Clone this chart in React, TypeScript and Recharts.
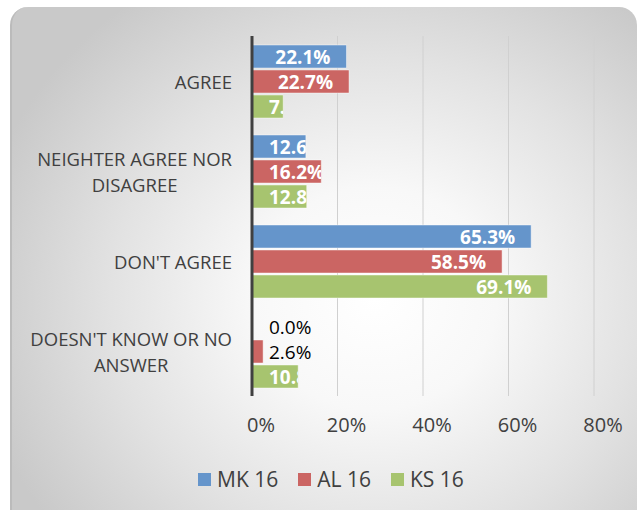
import React from "react";
import { BarChart, Bar, XAxis, YAxis, CartesianGrid, Legend, LabelList } from "recharts";

const categories = [
  "AGREE",
  "NEIGHTER AGREE NOR\nDISAGREE",
  "DON'T AGREE",
  "DOESN'T KNOW OR NO\nANSWER",
];
const mk16 = [22.1, 12.6, 65.3, 0.0];
const al16 = [22.7, 16.2, 58.5, 2.6];
const ks16 = [7.3, 12.8, 69.1, 10.8];
const xTicks = [0, 20, 40, 60, 80];

const series = [
  { key: "mk", name: "MK 16", color: "#6595CB" },
  { key: "al", name: "AL 16", color: "#CB6563" },
  { key: "ks", name: "KS 16", color: "#A7C46F" },
];

const data = categories.map((name, i) => ({
  name,
  mk: mk16[i],
  al: al16[i],
  ks: ks16[i],
}));

const FONT = "'Open Sans', sans-serif";
const TEXT = "#404040";
const LABEL_SIZE = 19;

let ctx: CanvasRenderingContext2D | null = null;
const measure = (t: string, font: string) => {
  if (!ctx) ctx = document.createElement("canvas").getContext("2d");
  if (!ctx) return t.length * 9;
  ctx.font = font;
  return ctx.measureText(t).width;
};

const makeLabel = (key: string) => (props: any) => {
  const { x, y, width, height, value, index } = props;
  const text = `${Number(value).toFixed(1)}%`;
  const cy = y + height / 2;
  // tiny bars: label sits outside in black
  if (width < 15) {
    return (
      <text x={x + 17} y={cy} dominantBaseline="central" fontSize={LABEL_SIZE} fontFamily={FONT} fill="#000">
        {text}
      </text>
    );
  }
  const w = measure(text, `bold ${LABEL_SIZE}px 'Open Sans'`);
  const fits = width >= w + 30;
  const id = `clip-${key}-${index}`;
  return (
    <g>
      <defs>
        <clipPath id={id}>
          <rect x={x} y={y} width={width} height={height} />
        </clipPath>
      </defs>
      <text
        x={fits ? x + width - 16 : x + 17}
        y={cy}
        textAnchor={fits ? "end" : "start"}
        dominantBaseline="central"
        fontSize={LABEL_SIZE}
        fontWeight="bold"
        fontFamily={FONT}
        fill="#fff"
        clipPath={`url(#${id})`}
      >
        {text}
      </text>
    </g>
  );
};

const CategoryTick = (props: any) => {
  const { x, y, payload } = props;
  const lines: string[] = String(payload.value).split("\n");
  const right = x - 12;
  if (lines.length === 1) {
    return (
      <text x={right} y={y} textAnchor="end" dominantBaseline="central" fontSize={18.5} fontFamily={FONT} fill={TEXT}>
        {lines[0]}
      </text>
    );
  }
  const maxW = Math.max(...lines.map((l) => measure(l, "18.5px 'Open Sans'")));
  const lh = 26;
  const y0 = y - ((lines.length - 1) * lh) / 2;
  return (
    <text textAnchor="middle" dominantBaseline="central" fontSize={18.5} fontFamily={FONT} fill={TEXT}>
      {lines.map((l, i) => (
        <tspan key={i} x={right - maxW / 2} y={y0 + i * lh}>
          {l}
        </tspan>
      ))}
    </text>
  );
};

const ValueTick = (props: any) => {
  const { x, y, payload } = props;
  return (
    <text x={x + 9} y={y + 20} textAnchor="middle" dominantBaseline="central" fontSize={20} fontFamily={FONT} fill={TEXT}>
      {payload.value}%
    </text>
  );
};

const LegendContent = () => (
  <div style={{ display: "flex", paddingLeft: 198, alignItems: "center", height: 30, fontFamily: FONT }}>
    {series.map((s) => (
      <div key={s.key} style={{ display: "flex", alignItems: "center", marginRight: 20 }}>
        <span style={{ width: 13, height: 13, background: s.color, display: "inline-block", marginRight: 6 }} />
        <span style={{ fontSize: 21, color: TEXT }}>{s.name}</span>
      </div>
    ))}
  </div>
);

// keep zero bars in the label list without drawing a visible bar
const minSize = (v: number) => (v === 0 ? 0.01 : 0);

export default function App() {
  return (
    <div style={{ position: "absolute", left: 0, top: 0, width: 639, height: 510, overflow: "hidden", background: "#fff" }}>
      <div
        style={{
          position: "absolute",
          left: 10,
          top: 7,
          width: 627,
          height: 530,
          borderRadius: 18,
          background: "radial-gradient(ellipse 65% 70% at 58% 55%, #ffffff 0%, #f8f8f8 30%, #e2e2e2 65%, #c9c9c9 100%)",
          borderLeft: "2px solid #bbbbbb",
          boxSizing: "border-box",
        }}
      />
      <div style={{ position: "absolute", left: 0, top: 0 }}>
        <BarChart
          width={639}
          height={510}
          data={data}
          layout="vertical"
          barSize={23}
          barGap={2}
          margin={{ top: 36, right: 45, left: 0, bottom: 16 }}
        >
          <CartesianGrid horizontal={false} stroke="#d0d0d0" />
          <XAxis
            type="number"
            domain={[0, 80]}
            ticks={xTicks}
            axisLine={false}
            tickLine={false}
            height={68}
            tick={<ValueTick />}
          />
          <YAxis
            type="category"
            dataKey="name"
            width={252}
            axisLine={{ stroke: "#404040", strokeWidth: 3 }}
            tickLine={false}
            tick={<CategoryTick />}
            interval={0}
          />
          <Legend verticalAlign="bottom" content={<LegendContent />} />
          {series.map((s) => (
            <Bar
              key={s.key}
              dataKey={s.key}
              name={s.name}
              fill={s.color}
              stroke="#ffffff"
              strokeOpacity={0.45}
              minPointSize={minSize as any}
              isAnimationActive={false}
            >
              <LabelList dataKey={s.key} content={makeLabel(s.key)} />
            </Bar>
          ))}
        </BarChart>
      </div>
    </div>
  );
}
